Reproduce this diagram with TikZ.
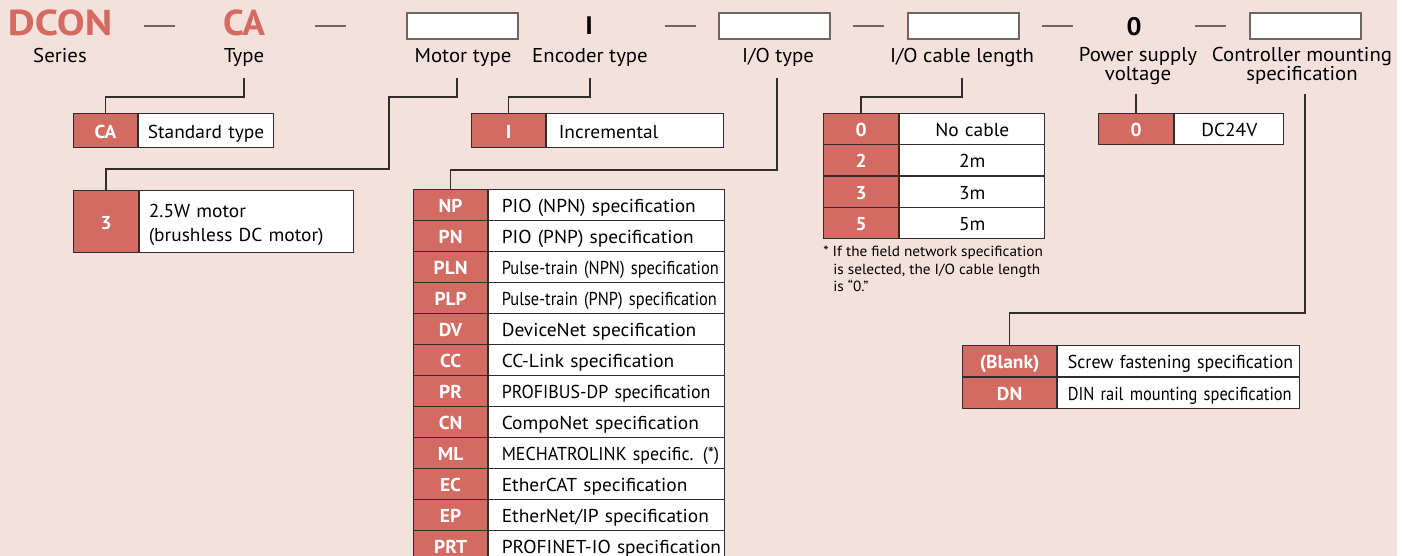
\documentclass[tikz,border=0pt]{standalone}
\usepackage{fontspec}
\setmainfont{PT Sans}[FakeStretch=1.04]
\newfontfamily\condfont[FakeStretch=0.88]{PT Sans}
\newfontfamily\semicond[FakeStretch=0.96]{PT Sans}
\newfontfamily\widefont[FakeStretch=1.16]{PT Sans}
\usetikzlibrary{positioning}
\definecolor{bgpink}{RGB}{245,225,220}
\definecolor{codered}{RGB}{212,107,98}
\definecolor{rulegray}{RGB}{110,102,96}
\definecolor{linedark}{RGB}{50,45,45}
\newcommand\topsize{\fontsize{27}{30}\selectfont}
\newcommand\lblsize{\fontsize{15}{13.5}\selectfont}
\newcommand\cellsize{\fontsize{14}{18}\selectfont}
\newcommand\notesize{\fontsize{11}{13.1}\selectfont}
\tikzset{
  topcode/.style={font=\topsize\bfseries, text=codered, inner sep=0pt, anchor=base},
  topsel/.style={font=\fontsize{19}{20}\selectfont\bfseries, inner sep=0pt, anchor=base},
  blankbox/.style={draw=rulegray, line width=1.5pt, fill=white, minimum width=83.25pt, minimum height=19.5pt, inner sep=0pt},
  sepdash/.style={draw=rulegray, line width=1.5pt},
  lbl/.style={font=\lblsize, inner sep=0pt, anchor=base, align=center},
  conn/.style={draw=linedark, line width=1pt},
  codecell/.style={draw=linedark, line width=0.9pt, fill=codered, text=white, font=\cellsize\bfseries, inner sep=0pt, text height=11.5pt, text depth=0.3pt, anchor=north west},
  desccell/.style 2 args={draw=linedark, line width=0.9pt, fill=white, font=\cellsize, inner sep=0pt, text height=11.5pt, text depth=0.3pt, text width=#1, align=left, anchor=north west, execute at begin node={\hspace*{#2}}},
  desccenter/.style={draw=linedark, line width=0.9pt, fill=white, font=\cellsize, inner sep=0pt, text height=11.5pt, text depth=0.3pt, text width=#1, align=center, anchor=north west},
}
\begin{document}
\begin{tikzpicture}[x=0.75pt, y=-0.75pt]
  \clip (0,0) rectangle (1402,556);
  \fill[bgpink] (0,0) rectangle (1397,556);
  \fill[white] (1397,0) rectangle (1402,556);
  % model code row
  \node[topcode] (dcon) at (60,36) {\widefont DCON};
  \node[topcode] (typeca) at (244,36) {CA};
  \node[blankbox] (motorbox) at (462,26) {};
  \node[topsel] (encsel) at (589,35) {I};
  \node[blankbox] (iobox) at (774.5,26) {};
  \node[blankbox] (cablebox) at (963,26) {};
  \node[topsel] (voltsel) at (1134,36) {0};
  \node[blankbox] (mountbox) at (1305,26) {};
  \foreach \a in {144,315,665,853,1042,1195}
    \draw[sepdash] (\a,26) -- ++(31,0);
  % labels
  \node[lbl] (lblseries) at (60,63) {Series};
  \node[lbl] (lbltype) at (244,63) {Type};
  \node[lbl] (lblmotor) at (463,63) {Motor type};
  \node[lbl] (lblenc) at (590,63) {Encoder type};
  \node[lbl] (lblio) at (778,63) {I/O type};
  \node[lbl] (lblcable) at (962,63) {I/O cable length};
  \node[lbl] (lblvolt) at (1138,81) {Power supply\\voltage};
  \node[lbl] (lblmount) at (1302,81) {Controller mounting\\specification};
  % type
  \node[codecell, minimum width=48pt, minimum height=25.5pt] (ca-code) at (73,113) {CA};
  \node[desccell={101.25pt}{6.75pt}, minimum height=25.5pt] (ca-desc) at (ca-code.north east) {Standard type};
  % motor
  \node[codecell, minimum width=48.75pt, minimum height=46.5pt] (mot-code) at (73,190) {3};
  \node[desccell={160.5pt}{6.75pt}, minimum height=46.5pt, text height=12pt, text depth=18pt] (mot-desc) at (mot-code.north east) {2.5W motor\\\hspace*{6.75pt}(brushless DC motor)};
  % encoder
  \node[codecell, minimum width=55.5pt, minimum height=25.5pt] (enc-code) at (471,113) {I};
  \node[desccell={132.75pt}{9pt}, minimum height=25.5pt] (enc-desc) at (enc-code.north east) {Incremental};
  % I/O
  \foreach \c/\d [count=\i from 0] in {
      NP/{PIO (NPN) specification},
      PN/{PIO (PNP) specification},
      PLN/{\condfont Pulse-train (NPN) specification},
      PLP/{\condfont Pulse-train (PNP) specification},
      DV/{DeviceNet specification},
      CC/{CC-Link specification},
      PR/{\semicond PROFIBUS-DP specification},
      CN/{CompoNet specification},
      ML/{\semicond MECHATROLINK specific. (*)},
      EC/{EtherCAT specification},
      EP/{EtherNet/IP specification},
      PRT/{PROFINET-IO specification}} {
    \node[codecell, minimum width=55.5pt, minimum height=23.25pt] (io-code\i) at (413,189+31*\i) {\c};
    \node[desccell={177pt}{9.75pt}, minimum height=23.25pt] (io-desc\i) at (io-code\i.north east) {\d};
  }
  % cable length
  \foreach \c/\d [count=\i from 0] in {0/No cable, 2/2m, 3/3m, 5/5m} {
    \node[codecell, minimum width=56.25pt, minimum height=23.44pt] (cab-code\i) at (823,113+31.25*\i) {\c};
    \node[desccenter=108.75pt, minimum height=23.44pt] (cab-desc\i) at (cab-code\i.north east) {\d};
  }
  \node[font=\notesize, anchor=north west, inner sep=0pt, align=left] (cabnote) at (823,246)
    {* If the field network specification\\\hspace*{7.5pt}is selected, the I/O cable length\\\hspace*{7.5pt}is “0.”};
  % power supply
  \node[codecell, minimum width=56.25pt, minimum height=23.25pt] (pow-code) at (1098,113) {0};
  \node[desccenter=81.75pt, minimum height=23.25pt] (pow-desc) at (pow-code.north east) {DC24V};
  % mounting
  \node[codecell, minimum width=70.5pt, minimum height=23.25pt] (mnt-code0) at (962,345) {(Blank)};
  \node[desccell={181.5pt}{7.5pt}, minimum height=23.25pt] (mnt-desc0) at (mnt-code0.north east) {\semicond Screw fastening specification};
  \node[codecell, minimum width=70.5pt, minimum height=23.25pt] (mnt-code1) at (mnt-code0.south west) {DN};
  \node[desccell={181.5pt}{7.5pt}, minimum height=23.25pt] (mnt-desc1) at (mnt-code1.north east) {\condfont DIN rail mounting specification};
  % connectors
  \coordinate (motbend) at (389,169);
  \draw[conn] ([yshift=-11.25pt]lbltype.base) -- ++(0,19) -| (ca-code.north);
  \draw[conn] ([shift={(-6,15)}]lblmotor.base) -- ++(0,19) -| (motbend) -| (mot-code.north);
  \draw[conn] ([yshift=-11.25pt]lblenc.base) -- ++(0,19) -| (enc-code.north);
  \draw[conn] ([shift={(-1,15)}]lblio.base) -- ++(0,92) -| (io-code0.north);
  \draw[conn] ([yshift=-11.25pt]lblcable.base) -- ++(0,19) -| (cab-code0.north);
  \draw[conn] (pow-code.north) -- ++(0,-19);
  \draw[conn] ([shift={(3,13)}]lblmount.base) -- ++(0,219) -| (mnt-code0.north);
\end{tikzpicture}
\end{document}
